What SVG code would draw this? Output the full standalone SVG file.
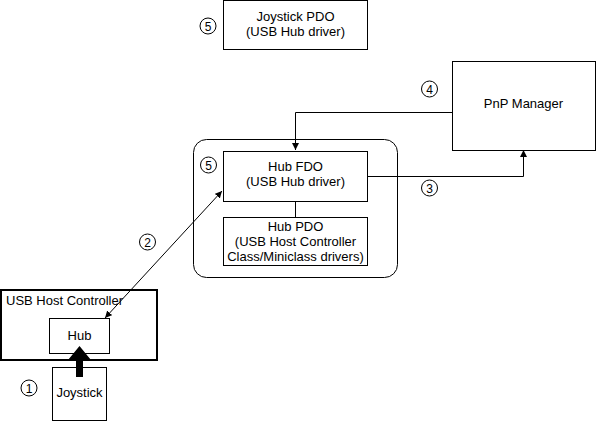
<svg xmlns="http://www.w3.org/2000/svg" width="596" height="422" viewBox="0 0 596 422">
<defs>
<marker id="ah" viewBox="0 0 10 10" refX="10" refY="5" markerWidth="7" markerHeight="7" markerUnits="userSpaceOnUse" orient="auto-start-reverse">
<path d="M0,0 L10,5 L0,10 z" fill="#000"/>
</marker>
</defs>
<style>
.box{fill:#fff;stroke:#000;stroke-width:1}
.t{font-family:"Liberation Sans",Arial,sans-serif;font-size:13px;fill:#000;text-anchor:middle}
.tl{font-family:"Liberation Sans",Arial,sans-serif;font-size:13px;fill:#000}
.n{font-family:"Liberation Sans",Arial,sans-serif;font-size:12px;fill:#000;text-anchor:middle}
.c{fill:#fff;stroke:#000;stroke-width:1}
.ln{fill:none;stroke:#000;stroke-width:1}
</style>
<rect width="596" height="422" fill="#fff"/>
<g id="container">
<rect x="193.5" y="139.5" width="204" height="138" rx="13" class="box"/>
</g>
<g id="joystick-pdo">
<rect x="223.5" y="0.5" width="144" height="49" class="box"/>
<text class="t" x="295.5" y="21">Joystick PDO</text>
<text class="t" x="295.5" y="36">(USB Hub driver)</text>
<circle cx="208" cy="26" r="8" class="c"/>
<text class="n" x="208" y="30.5">5</text>
</g>
<g id="pnp-manager">
<rect x="452.5" y="61.5" width="143" height="89" class="box"/>
<text class="t" x="523.5" y="108">PnP Manager</text>
</g>
<g id="hub-fdo">
<rect x="223.5" y="151.5" width="144" height="50" class="box"/>
<text class="t" x="295.5" y="171">Hub FDO</text>
<text class="t" x="295.5" y="186">(USB Hub driver)</text>
<circle cx="208.5" cy="165" r="8" class="c"/>
<text class="n" x="208.5" y="169.5">5</text>
</g>
<g id="hub-pdo">
<rect x="223.5" y="217.5" width="144" height="48" class="box"/>
<text class="t" x="295.5" y="231">Hub PDO</text>
<text class="t" x="295.5" y="246">(USB Host Controller</text>
<text class="t" x="295.5" y="261">Class/Miniclass drivers)</text>
</g>
<g id="usb-host-controller">
<rect x="1" y="290" width="156" height="70" fill="#fff" stroke="#000" stroke-width="2"/>
<text class="tl" x="6" y="305">USB Host Controller</text>
</g>
<g id="hub">
<rect x="49.5" y="318.5" width="60" height="35" class="box"/>
<text class="t" x="79.5" y="340">Hub</text>
</g>
<g id="joystick">
<rect x="52.5" y="367.5" width="54" height="53" class="box"/>
<text class="t" x="79.5" y="397">Joystick</text>
</g>
<g id="connectors">
<path class="ln" d="M452,112.5 H295.5 V150" marker-end="url(#ah)"/>
<path class="ln" d="M368,176.5 H523.5 V150" marker-end="url(#ah)"/>
<path class="ln" d="M295.5,202 V217"/>
<path class="ln" d="M222,191 L105,318" marker-start="url(#ah)" marker-end="url(#ah)"/>
<path d="M76,377 V360 H68 L79.5,346 L91,360 H83 V377 z" fill="#000"/>
</g>
<g id="labels">
<circle cx="429.5" cy="89" r="8" class="c"/>
<text class="n" x="429.5" y="93.5">4</text>
<circle cx="429.5" cy="188" r="8" class="c"/>
<text class="n" x="429.5" y="192.5">3</text>
<circle cx="147.5" cy="242" r="8" class="c"/>
<text class="n" x="147.5" y="246.5">2</text>
<circle cx="29" cy="388" r="8" class="c"/>
<text class="n" x="29" y="392.5">1</text>
</g>
</svg>
